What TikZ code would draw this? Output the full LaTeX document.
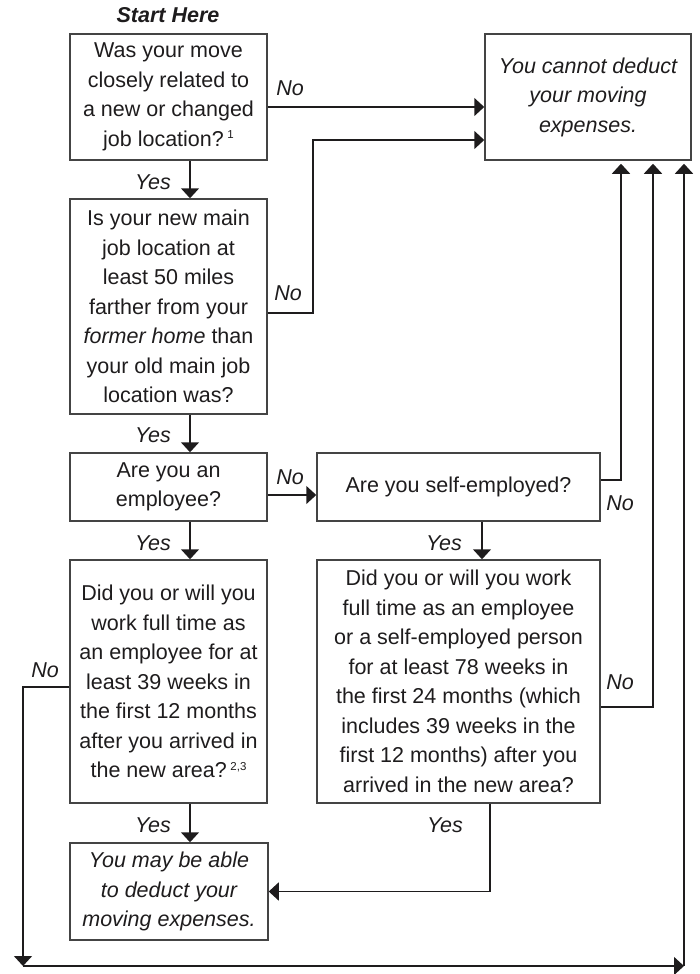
\documentclass[tikz,border=0pt]{standalone}
\usepackage{fontspec}
\setmainfont{Liberation Sans}
\usetikzlibrary{arrows.meta,calc}
\definecolor{ink}{HTML}{1E1C1D}
\definecolor{frame}{HTML}{444444}
\newcommand{\fnmark}[1]{\,\raisebox{7.5pt}{\fontsize{11.5}{11.5}\selectfont #1}}
\tikzset{
  qbox/.style={draw=frame, line width=1.5pt, align=center, inner sep=0pt, text=ink,
    font=\fontsize{21.5}{29.5}\selectfont},
  lbl/.style={font=\fontsize{21.5}{25}\selectfont\itshape, text=ink, inner sep=0pt},
  conn/.style={draw=ink, line width=1.5pt},
  arr/.style={conn, -{Triangle[width=18pt,length=10pt]}},
}
\begin{document}
\begin{tikzpicture}[x=1pt,y=-1pt]
\useasboundingbox (0,0) rectangle (699,974);

\node[lbl, font=\fontsize{21.5}{25}\selectfont\bfseries\itshape] (start) at (168,15) {Start Here};

\node[qbox, minimum width=197pt, minimum height=126pt] (b1) at (168.5,97)
  {Was your move\\closely related to\\a new or changed\\job location?\fnmark{1}};
\node[qbox, minimum width=206pt, minimum height=126pt, font=\fontsize{21.5}{29.5}\selectfont\itshape] (nd) at (588,97)
  {You cannot deduct\\your moving\\expenses.};
\node[qbox, minimum width=197pt, minimum height=215pt] (b2) at (168.5,306.5)
  {Is your new main\\job location at\\least 50 miles\\farther from your\\\textit{former home} than\\your old main job\\location was?};
\node[qbox, minimum width=197pt, minimum height=68pt] (b3) at (168.5,487)
  {Are you an\\employee?};
\node[qbox, minimum width=283pt, minimum height=68pt] (b4) at (458.5,487)
  {Are you self-employed?};
\node[qbox, minimum width=197pt, minimum height=243pt] (b6) at (168.5,681.5)
  {Did you or will you\\work full time as\\an employee for at\\least 39 weeks in\\the first 12 months\\after you arrived in\\the new area?\fnmark{2,3}};
\node[qbox, minimum width=283pt, minimum height=243pt] (b5) at (458.5,681.5)
  {Did you or will you work\\full time as an employee\\or a self-employed person\\for at least 78 weeks in\\the first 24 months (which\\includes 39 weeks in the\\first 12 months) after you\\arrived in the new area?};
\node[qbox, minimum width=198pt, minimum height=97pt, font=\fontsize{21.5}{29.5}\selectfont\itshape] (b7) at (169,891.5)
  {You may be able\\to deduct your\\moving expenses.};

% Yes arrows
\draw[arr] ([xshift=21.5pt]b1.south) -- ([xshift=21.5pt]b2.north);
\draw[arr] ([xshift=21.5pt]b2.south) -- ([xshift=21.5pt]b3.north);
\draw[arr] ([xshift=21.5pt]b3.south) -- ([xshift=21.5pt]b6.north);
\draw[arr] ([xshift=23.5pt]b4.south) -- ([xshift=23.5pt]b5.north);
\draw[arr] ([xshift=21.5pt]b6.south) -- ([xshift=21pt]b7.north);
\draw[arr] ([xshift=31.5pt]b5.south) |- (b7.east);

% No connectors
\coordinate (a1) at ([yshift=-10pt]b1.east);
\draw[arr] (a1) -- (a1 -| nd.west);
\coordinate (nd2) at ([yshift=-43pt]nd.west);
\draw[arr] ([yshift=-6.5pt]b2.east) -- ++(45,0) |- (nd2);
\coordinate (a3) at ([yshift=-8pt]b3.east);
\draw[arr] (a3) -- (a3 -| b4.west);
\draw[arr] ([yshift=7pt]b4.east) -| ([xshift=33pt,yshift=-3pt]nd.south);
\draw[arr] ([yshift=-25.5pt]b5.east) -| ([xshift=65pt,yshift=-3pt]nd.south);
\coordinate (bl) at (23,966);
\coordinate (br) at (684,966);
\draw[arr] ([yshift=-5.5pt]b6.west) -| (bl);
\draw[arr] (bl) -- (br);
\draw[arr] (br) -- ([yshift=-3pt]br |- nd.south);

% Labels
\node[lbl] (y1) at (153,182) {Yes};
\node[lbl] (y2) at (153,435) {Yes};
\node[lbl] (y3) at (153,543) {Yes};
\node[lbl] (y4) at (444,543) {Yes};
\node[lbl] (y5) at (153,825) {Yes};
\node[lbl] (y6) at (445,825) {Yes};
\node[lbl] (n1) at (290,88) {No};
\node[lbl] (n2) at (288,293) {No};
\node[lbl] (n3) at (290,477) {No};
\node[lbl] (n4) at (620,503) {No};
\node[lbl] (n5) at (620,682) {No};
\node[lbl] (n6) at (45,670) {No};
\end{tikzpicture}
\end{document}
